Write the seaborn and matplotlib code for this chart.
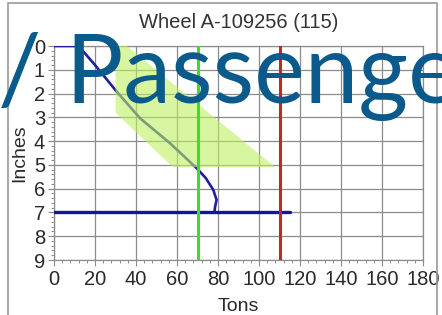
import matplotlib
matplotlib.use('Agg')
import matplotlib.pyplot as plt
import matplotlib.patches as patches
from matplotlib.ticker import MultipleLocator
import seaborn as sns
import pandas as pd

# curve of the wheel
curve_tons = [0, 12, 20, 30.6, 42, 56.6, 69.6, 74, 77.7, 79.3, 78.5, 78.3]
curve_inches = [0, 0, 0.8, 1.92, 3.04, 4.09, 5.14, 5.55, 6.05, 6.47, 6.8, 7.0]

# flat line at 7 inches
flat_tons = [0, 115]
flat_inches = [7, 7]

# green tolerance band
band_tons = [30, 35.5, 108, 58, 30]
band_inches = [0, 0, 5.1, 5.1, 2.8]

# limits
green_limit = 70
red_limit = 110

x_ticks = list(range(0, 181, 20))
y_ticks = list(range(0, 10))

sns.set_style('white')
plt.rcParams['font.family'] = ['Liberation Sans', 'DejaVu Sans']

fig = plt.figure(figsize=(4.42, 3.15), dpi=100)
ax = fig.add_axes([54/442, 1-260/315, (423-54)/442, (260-46)/315])

curve = pd.DataFrame({'tons': curve_tons, 'inches': curve_inches})
flat = pd.DataFrame({'tons': flat_tons, 'inches': flat_inches})

sns.lineplot(data=curve, x='tons', y='inches', sort=False, color='#1f1fa0', lw=1.9, ax=ax, zorder=3)
sns.lineplot(data=flat, x='tons', y='inches', sort=False, color='#1414a0', lw=2.4, ax=ax, zorder=3)
ax.fill(band_tons, band_inches, color='#bef060', alpha=0.6, lw=0, zorder=4)

ax.axvline(green_limit, color='#3fdc2e', lw=2.2, zorder=5)
ax.axvline(red_limit, color='#c0262c', lw=2.2, zorder=5)

ax.set_xlim(0, 180)
ax.set_ylim(9, 0)
ax.set_xticks(x_ticks)
ax.set_yticks(y_ticks)
ax.xaxis.set_minor_locator(MultipleLocator(4))
ax.yaxis.set_minor_locator(MultipleLocator(0.2))
ax.grid(True, which='major', color='#8c8c8c', lw=0.9, zorder=1)
ax.set_axisbelow(True)
ax.tick_params(which='major', direction='out', length=4.5, width=0.8, color='#8c8c8c',
               labelsize=14.5, labelcolor='#2a2a2a', left=True, bottom=True)
ax.tick_params(axis='x', which='major', pad=3)
ax.tick_params(axis='y', which='major', pad=2)
ax.tick_params(which='minor', direction='out', length=2.5, width=0.7, color='#8c8c8c',
               left=True, bottom=True)
for s in ax.spines.values():
    s.set_color('#8c8c8c')
    s.set_linewidth(0.9)

ax.set_title('Wheel A-109256 (115)', fontsize=14.5, color='#333333', pad=13)
ax.set_xlabel('Tons', fontsize=14, color='#2a2a2a', labelpad=6)
ax.set_ylabel('Inches', fontsize=14, color='#2a2a2a', labelpad=4)

# outer frame
fig.patches.append(patches.Rectangle((8/442, -0.1), (437-8)/442, 1.1-3/315,
                                     transform=fig.transFigure, fill=False,
                                     edgecolor='#9a9a9a', lw=1.2))

# overlay text
fig.text(-2/442, 1-103/315, '/ Passenge', fontsize=69, color='#0b5a8c',
         family=['Lato', 'DejaVu Sans'], ha='left', va='baseline', zorder=10)

fig.savefig('out.png', dpi=100)
